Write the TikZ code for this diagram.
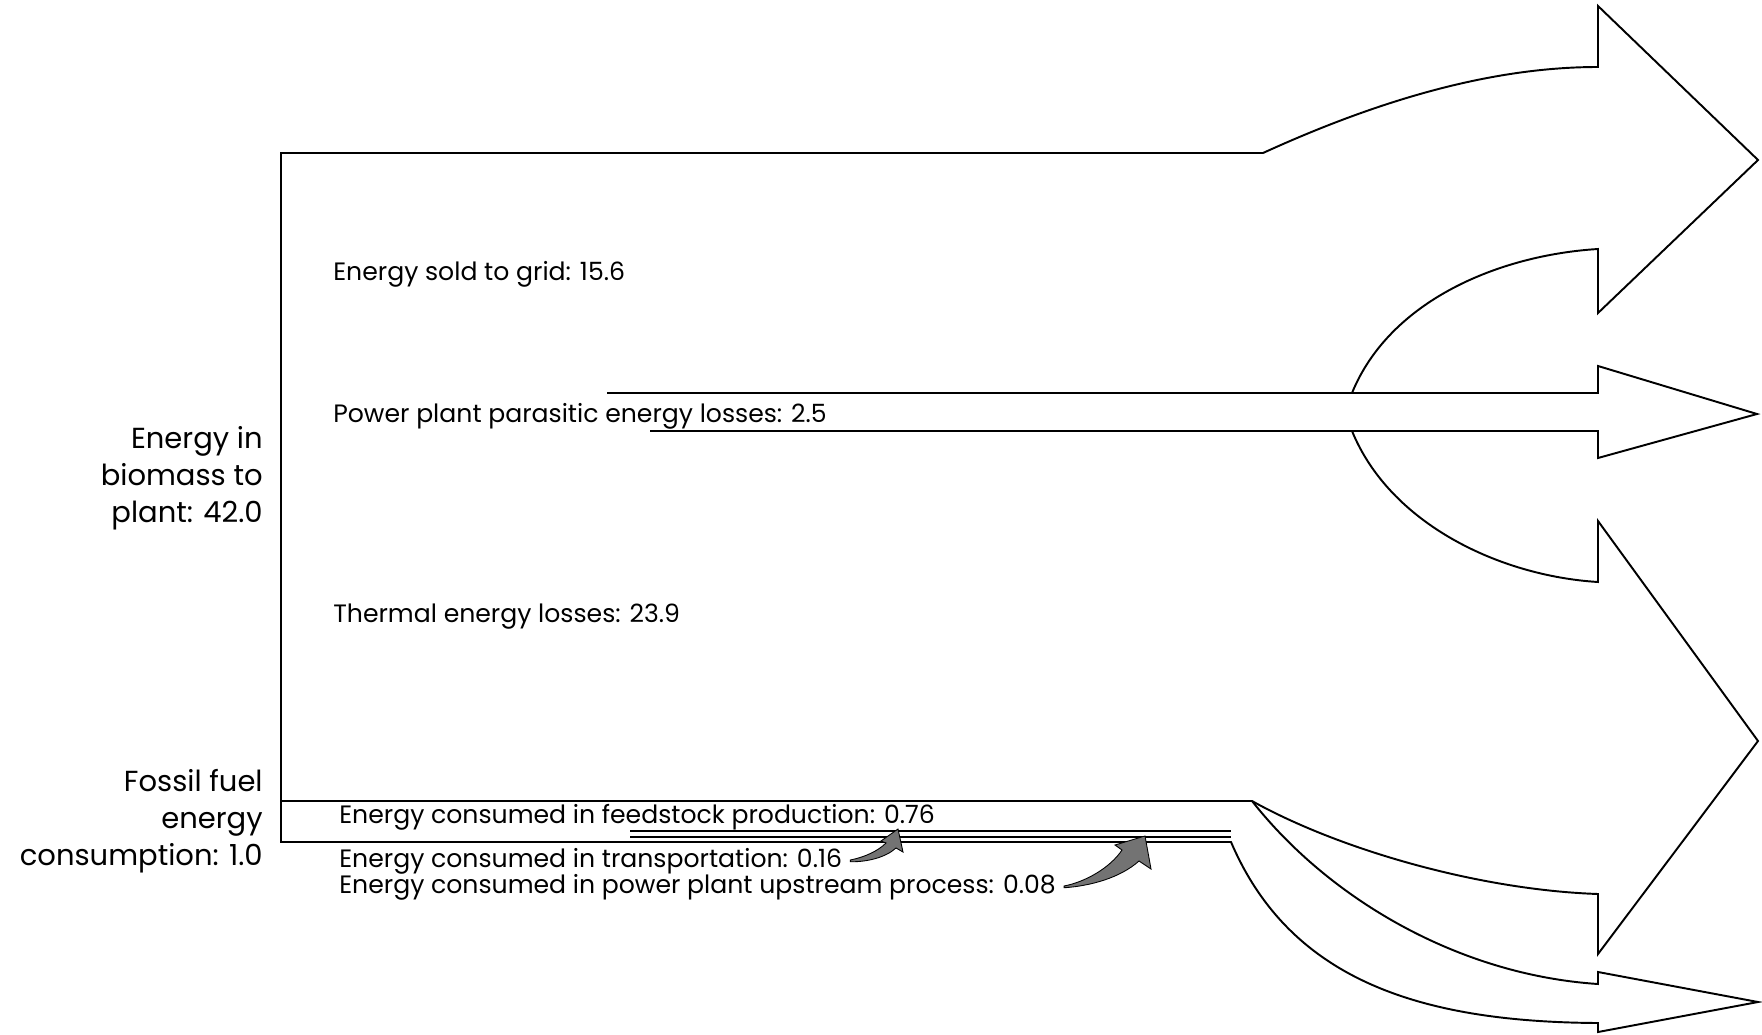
\documentclass[tikz,border=0pt]{standalone}
\usepackage{fontspec}
\setmainfont{Poppins}
\usetikzlibrary{calc}

\begin{document}
\begin{tikzpicture}[x=0.2mm,y=-0.2mm,
  flow/.style={line width=1.1pt,line join=miter},
  split/.style={line width=0.7pt},
  txt/.style={inner sep=0pt,anchor=base west,font=\fontsize{14.3}{17}\selectfont},
  side/.style={inner sep=0pt,anchor=north east,align=right,font=\fontsize{16.5}{21}\selectfont},
  curl/.style={draw,line width=0.5pt,fill=black!55}]
\useasboundingbox (0,0) rectangle (1762,1035);
\coordinate (TL) at (281,153);\coordinate (ML) at (281,801);\coordinate (BL) at (281,842);
\coordinate (TR) at (1263,153);\coordinate (PR) at (1352,393);\coordinate (QR) at (1352,431);
\coordinate (FR) at (1252,801);\coordinate (GR) at (1231,842);

\draw[flow](ML)--(TL)--(TR) .. controls (1390,95) and (1500,67) .. (1598,67)--(1598,6)--(1758,160)--(1598,313)--(1598,249)
  .. controls (1500,255) and (1390,300) .. (PR)--(1598,393)--(1598,366)--(1757,414)--(1598,458)--(1598,431)--(QR)
  .. controls (1390,524) and (1500,576) .. (1598,582)--(1598,521)--(1758,741)--(1598,954)--(1598,894)
  .. controls (1480,890) and (1340,850) .. (FR)--cycle;
\draw[flow](ML)--(BL)--(GR) .. controls (1290,980) and (1420,1022) .. (1598,1023)--(1598,1032)--(1758,1002)--(1598,972)--(1598,984)
  .. controls (1460,975) and (1330,900) .. (FR);
\draw[split](607,393)--(PR)(650,431)--(QR)(630,831)--(1231,831)(630,837)--(1231,837);

\node[txt] (grid) at (333,280) {Energy sold to grid: 15.6};
\node[txt] (parasitic) at (333,422) {Power plant parasitic energy losses: 2.5};
\node[txt] (thermal) at (333,622) {Thermal energy losses: 23.9};
\node[txt] (feedstock) at (339,823) {Energy consumed in feedstock production: 0.76};
\node[txt] (transport) at (339,867) {Energy consumed in transportation: 0.16};
\node[txt] (upstream) at (339,893) {Energy consumed in power plant upstream process: 0.08};
\node[side] (biomass) at (263,426) {Energy in\\biomass to\\plant: 42.0};
\node[side] (fossil) at (263,769) {Fossil fuel\\energy\\consumption: 1.0};

\coordinate (t1) at ($(transport.base east)+(8,-7)$);
\coordinate (t2) at ($(upstream.base east)+(8,-7)$);
\filldraw[curl](t1) .. controls (865,857) and (878,851) .. (886,843)--(881,841)--(898,829)--(903,852)--(896,848)
  .. controls (885,858) and (866,862) .. ([yshift=-1]t1)--cycle;
\filldraw[curl](t2) .. controls (1085,882) and (1110,868) .. (1122,850)--(1115,845)--(1145,836)--(1151,869)--(1139,861)
  .. controls (1120,878) and (1090,886) .. ([yshift=-1]t2)--cycle;
\end{tikzpicture}
\end{document}
